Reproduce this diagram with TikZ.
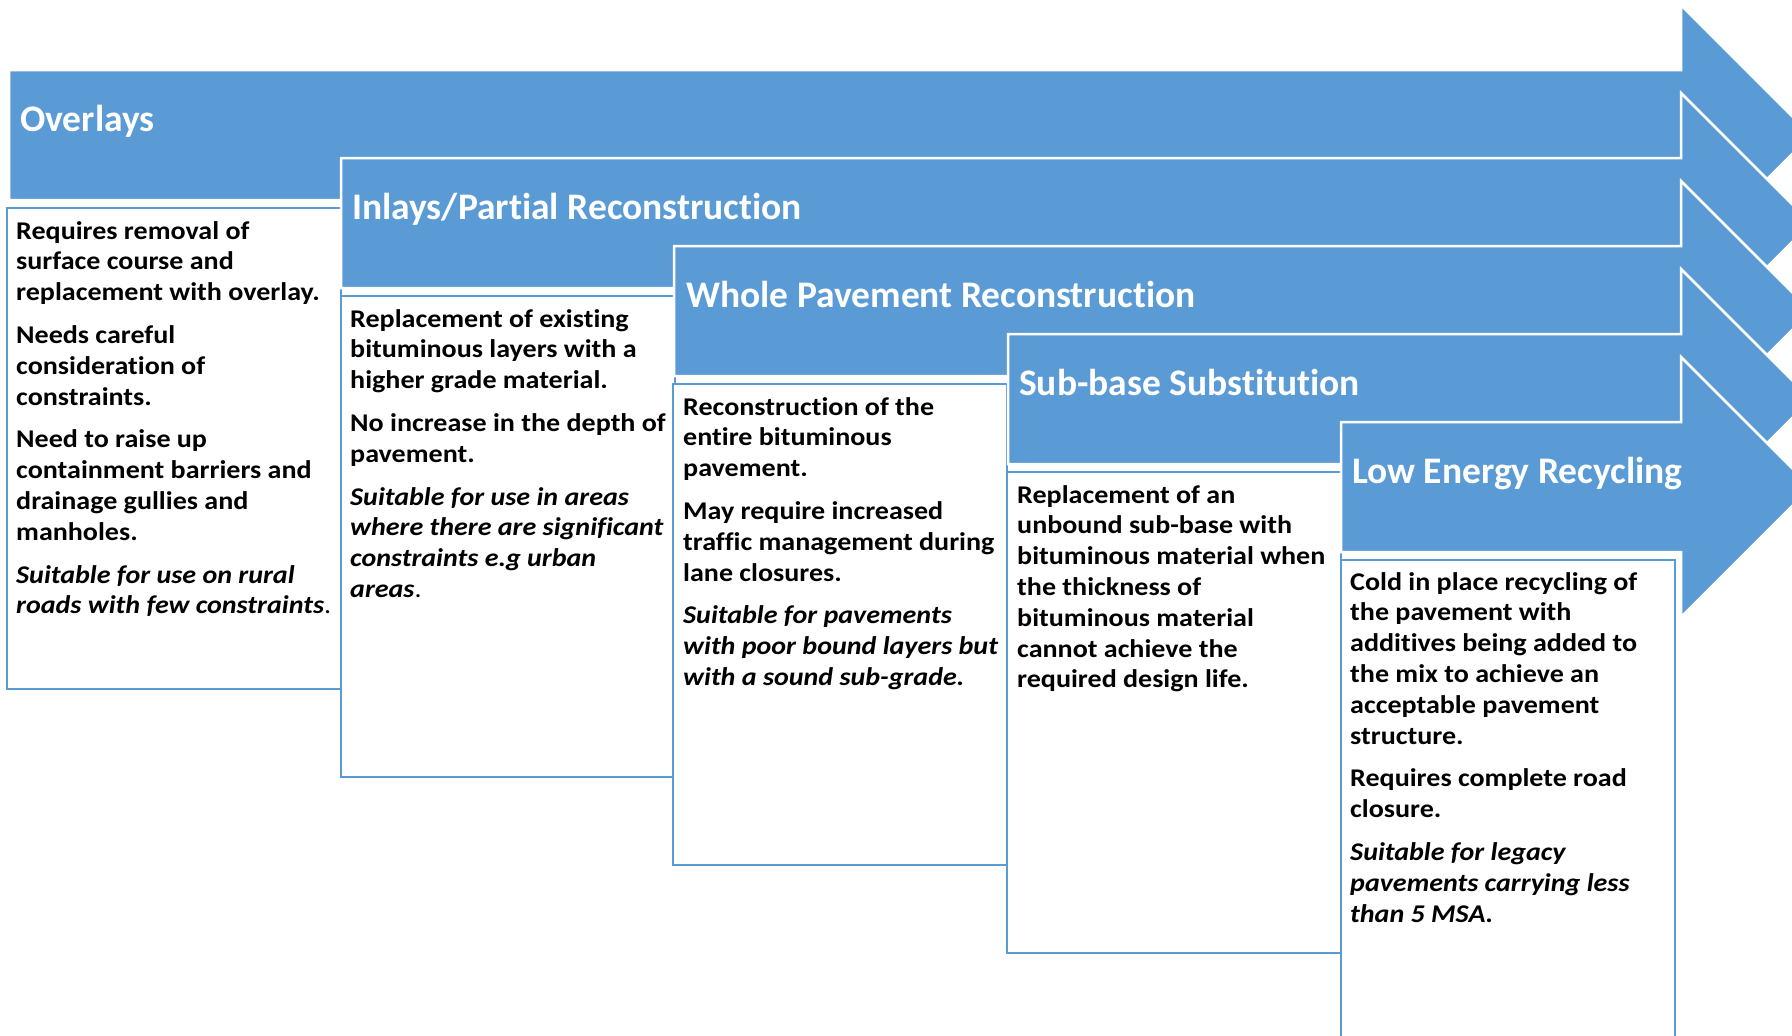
\documentclass[tikz,border=0pt]{standalone}
\usepackage{fontspec}
\setmainfont{Carlito}[RawFeature=-liga]
\newfontfamily\bodyfam{Carlito}[FakeStretch=1.10,RawFeature=-liga]
\definecolor{arrowblue}{HTML}{5B9BD5}
\definecolor{boxblue}{HTML}{5B9BD5}
\tikzset{
  arrowshape/.style={fill=arrowblue, draw=white, line width=2.5pt, line join=miter},
  textbox/.style={fill=white, draw=boxblue, line width=2pt},
  header/.style={anchor=base west, inner sep=0pt, text=white, font=\bfseries\fontsize{37.5}{44}\selectfont},
  bodytext/.style={anchor=base west, inner sep=0pt, text=black},
}
\newcommand{\bodyblock}[1]{\vtop{\hsize=335pt\bodyfam\bfseries\fontsize{25.5}{30.8}\selectfont\parindent=0pt\parskip=12pt\raggedright #1}}
\newcommand{\drawarrow}[2]{\path[arrowshape] (#1,#2) -- (1681,#2) -- (1681,#2-65) -- (1811,#2+65) -- (1681,#2+195) -- (1681,#2+130) -- (#1,#2+130) -- cycle;}
\newcommand{\drawbox}[2]{\path[textbox] (#1,#2+137.5) rectangle ++(334,481.5);}
\begin{document}
\begin{tikzpicture}[x=1pt,y=-1pt]
\useasboundingbox (0,0) rectangle (1792,1036);
\clip (0,0) rectangle (1792,1036);
% column 1
\drawarrow{9}{70}
\drawbox{7}{70}
\node[header] (h1) at (20,131) {Overlays};
\node[bodytext] (b1) at (16,239) {\bodyblock{Requires removal of\\ surface course and\\ replacement with overlay.\par
Needs careful\\ consideration of\\ constraints.\par
Need to raise up\\ containment barriers and\\ drainage gullies and\\ manholes.\par
{\itshape Suitable for use on rural\\ roads with few constraints}{\mdseries .}}};
% column 2
\drawarrow{341}{158}
\drawbox{341}{158}
\node[header] (h2) at (352,219) {Inlays/Partial Reconstruction};
\node[bodytext] (b2) at (350,327) {\bodyblock{Replacement of existing\\ bituminous layers with a\\ higher grade material.\par
No increase in the depth of\\ pavement.\par
{\itshape Suitable for use in areas\\ where there are significant\\ constraints e.g urban\\ areas}{\mdseries .}}};
% column 3
\drawarrow{674}{246}
\drawbox{673}{246}
\node[header] (h3) at (686,307) {Whole Pavement Reconstruction};
\node[bodytext] (b3) at (683,415) {\bodyblock{Reconstruction of the\\ entire bituminous\\ pavement.\par
May require increased\\ traffic management during\\ lane closures.\par
{\itshape Suitable for pavements\\ with poor bound layers but\\ with a sound sub-grade.}}};
% column 4
\drawarrow{1008}{334}
\drawbox{1007}{334}
\node[header] (h4) at (1019,395) {Sub-base Substitution};
\node[bodytext] (b4) at (1017,503) {\bodyblock{Replacement of an\\ unbound sub-base with\\ bituminous material when\\ the thickness of\\ bituminous material\\ cannot achieve the\\ required design life.}};
% column 5
\drawarrow{1341}{422}
\drawbox{1341}{422}
\node[header] (h5) at (1352,483) {Low Energy Recycling};
\node[bodytext] (b5) at (1350,590) {\bodyblock{Cold in place recycling of\\ the pavement with\\ additives being added to\\ the mix to achieve an\\ acceptable pavement\\ structure.\par
Requires complete road\\ closure.\par
{\itshape Suitable for legacy\\ pavements carrying less\\ than 5 MSA.}}};
\end{tikzpicture}
\end{document}
